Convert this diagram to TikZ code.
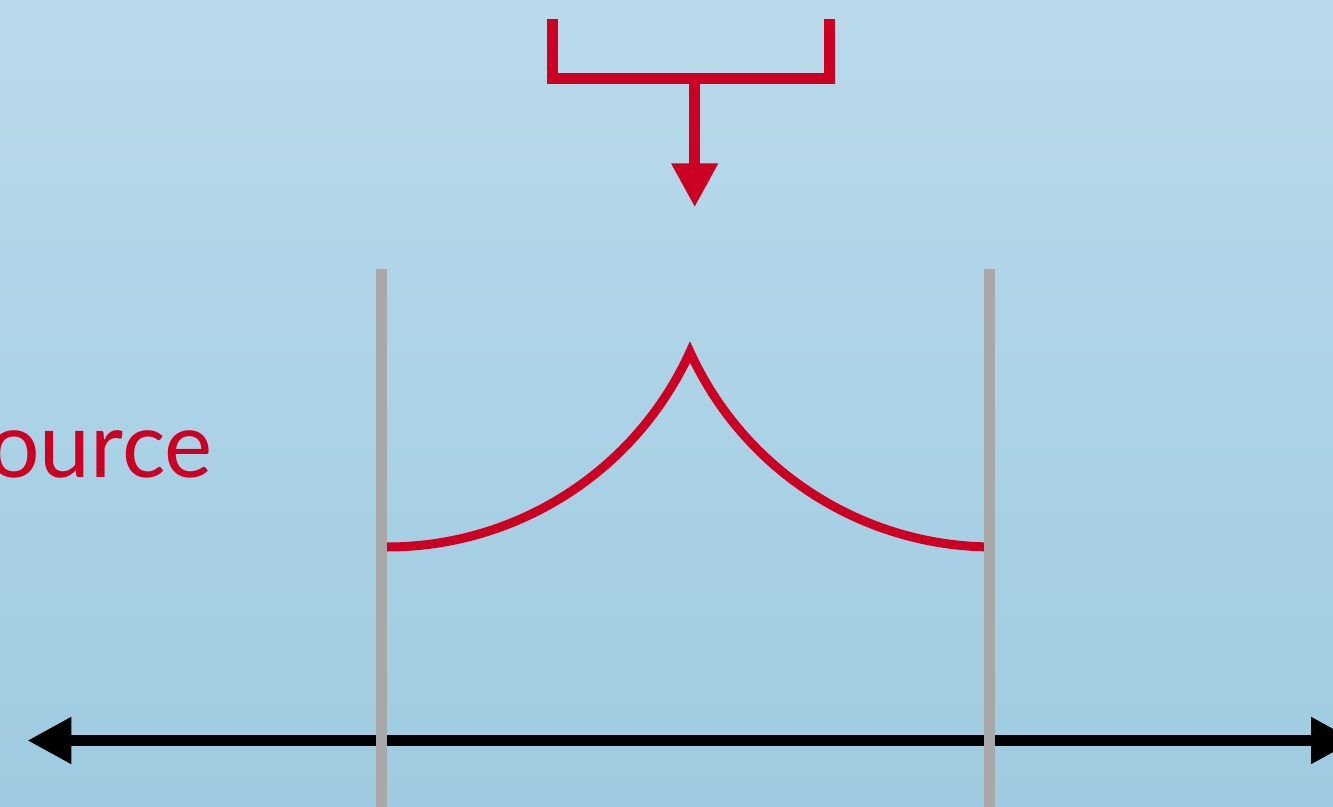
\documentclass[tikz,border=0pt]{standalone}
\usepackage{fontspec}
\setmainfont{Lato}
\usetikzlibrary{arrows.meta}
\definecolor{bgtop}{HTML}{BADAEB}
\definecolor{bgbottom}{HTML}{9ECBE1}
\definecolor{srcred}{HTML}{CC0022}
\definecolor{wallgray}{HTML}{A8A8A8}

\begin{document}
\begin{tikzpicture}[x=0.5pt, y=-0.5pt,
  redline/.style={draw=srcred, line width=5.35pt, miter limit=10},
  cusp/.style={draw=srcred, line width=4.5pt, miter limit=10},
  wall/.style={draw=wallgray, line width=5.35pt},
  axis/.style={draw=black, line width=5.5pt,
               {Triangle[length=22pt, width=22pt]}-{Triangle[length=22pt, width=22pt]}},
  redarr/.style={redline, -{Triangle[length=22pt, width=22pt]}}]
  \useasboundingbox (0,0) rectangle (1333,807);
  \clip (0,0) rectangle (1333,807);
  \shade[top color=bgtop, bottom color=bgbottom] (0,0) rectangle (1333,807);

  % source bracket and its arrow
  \coordinate (bl) at (552.7,19.3);
  \coordinate (br) at (829.3,19.3);
  \coordinate (stem) at (694.7,78.7);
  \coordinate (hit) at (694.7,207.3);
  \draw[redline] (bl) -- (bl |- stem) -- (br |- stem) -- (br);
  \draw[redarr] (stem) -- (hit);

  % label
  \node[anchor=base east, text=srcred, inner sep=0pt,
        font=\fontsize{45.5}{50}\selectfont] (src) at (213,477) {ource};

  % cusp between the walls
  \coordinate (cl) at (381.5,547);
  \coordinate (cr) at (989.3,547);
  \coordinate (peak) at (690,352);
  \draw[cusp] (cl) -- (387,547) arc[start angle=90, end angle=24.47, radius=332.9]
    arc[start angle=155.53, end angle=91.55, radius=332.9] -- (cr);

  % axis
  \coordinate (axl) at (27.3,740.5);
  \coordinate (axr) at (1355,740.5);
  \draw[axis] (axl) -- (axr);

  % walls
  \coordinate (wl) at (381.5,269.3);
  \coordinate (wr) at (989.3,269.3);
  \draw[wall] (wl) -- (wl |- 0,820);
  \draw[wall] (wr) -- (wr |- 0,820);
\end{tikzpicture}
\end{document}
